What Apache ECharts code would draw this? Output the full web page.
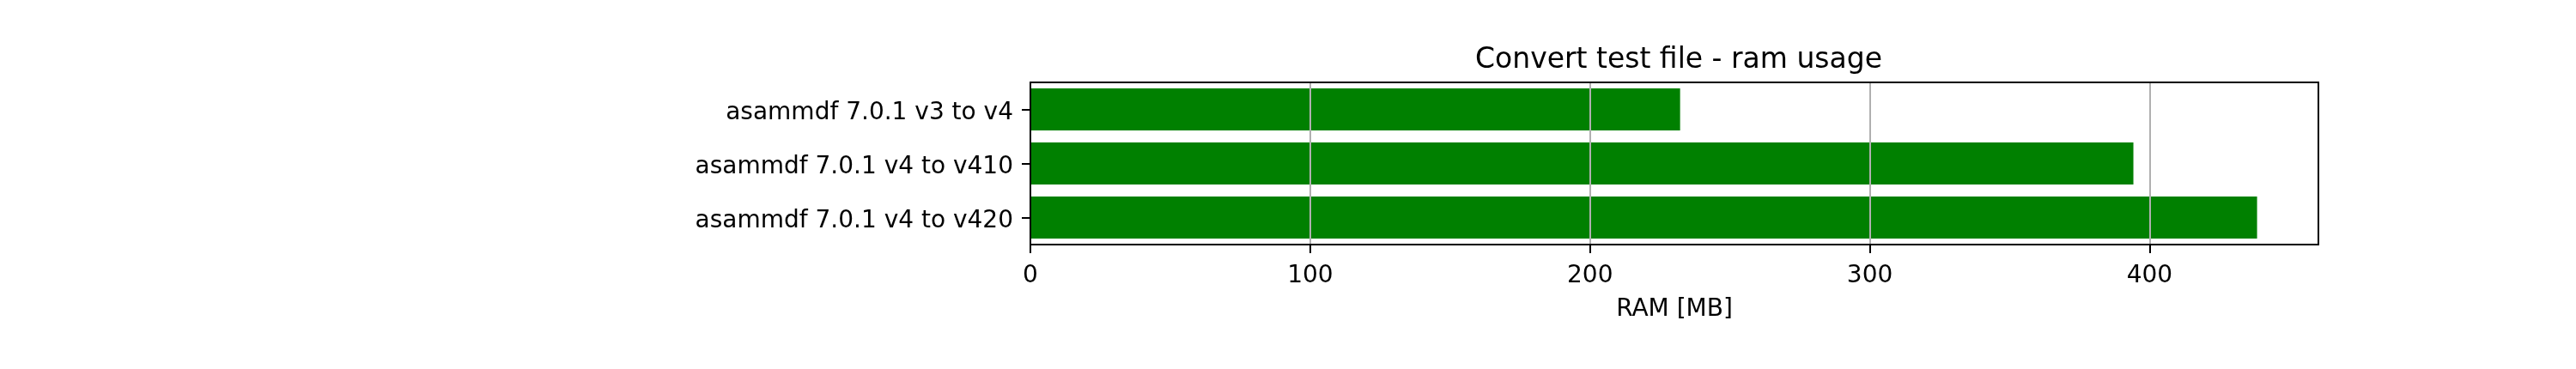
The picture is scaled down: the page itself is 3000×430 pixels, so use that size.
<!DOCTYPE html>
<html>
<head>
<meta charset="utf-8">
<script src="https://cdn.jsdelivr.net/npm/echarts@6/dist/echarts.min.js"></script>
<style>html,body{margin:0;padding:0;background:#fff}#c{width:3000px;height:430px}</style>
</head>
<body>
<div id="c"></div>
<script>
const categories = ["asammdf 7.0.1 v3 to v4", "asammdf 7.0.1 v4 to v410", "asammdf 7.0.1 v4 to v420"];
const ramValues = [232.2, 394.2, 438.4];
const xTicks = [0, 100, 200, 300, 400];
const titleText = "Convert test file - ram usage";
const xLabel = "RAM [MB]";

const FONT = "DejaVu Sans";
const chart = echarts.init(document.getElementById('c'), null, {renderer: 'canvas'});
const xMax = Math.max(...ramValues) * 1.05;
const frameLine = {show: true, onZero: false, lineStyle: {color: '#000', width: 2}};
chart.setOption({
  animation: false,
  backgroundColor: '#fff',
  title: {
    text: titleText,
    left: 1950,
    textAlign: 'center',
    top: 49,
    textStyle: {fontFamily: FONT, fontSize: 33, fontWeight: 'normal', color: '#000'}
  },
  grid: {left: 1200, right: 300, top: 96, bottom: 145, show: false, containLabel: false},
  xAxis: [{
    type: 'value', min: 0, max: xMax, interval: 100, z: 5,
    name: xLabel, nameLocation: 'middle', nameGap: 62,
    nameTextStyle: {fontFamily: FONT, fontSize: 28, color: '#000'},
    axisLine: frameLine,
    axisTick: {show: true, length: 10, lineStyle: {color: '#000', width: 2}},
    axisLabel: {fontFamily: FONT, fontSize: 28, color: '#000', margin: 23, showMaxLabel: false,
      formatter: v => xTicks.includes(v) ? String(v) : ''},
    splitLine: {show: true, lineStyle: {color: '#b0b0b0', width: 2}}
  }, {
    type: 'value', position: 'top', min: 0, max: xMax, z: 6,
    axisLine: frameLine, axisTick: {show: false}, axisLabel: {show: false}, splitLine: {show: false}
  }],
  yAxis: [{
    type: 'category', data: categories, inverse: true, z: 6,
    axisLine: frameLine,
    axisTick: {show: true, alignWithLabel: true, length: 10, lineStyle: {color: '#000', width: 2}},
    axisLabel: {fontFamily: FONT, fontSize: 28, color: '#000', margin: 20, verticalAlign: 'top', lineHeight: 8},
    splitLine: {show: false}
  }, {
    type: 'category', data: categories, inverse: true, position: 'right', z: 6,
    axisLine: frameLine, axisTick: {show: false}, axisLabel: {show: false}, splitLine: {show: false}
  }],
  series: [{
    type: 'bar', data: ramValues, barWidth: 49, z: 2,
    itemStyle: {color: '#008000'}
  }]
});
</script>
</body>
</html>
